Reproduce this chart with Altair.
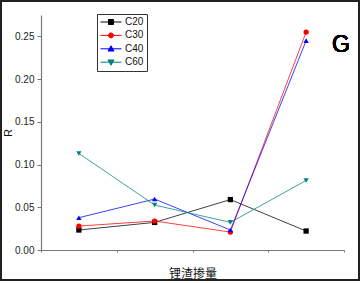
import altair as alt
import pandas as pd

# ---- data ----
X_LABELS = ["0%", "10%", "20%", "30%"]
SERIES = ["C20", "C30", "C40", "C60"]
C20 = [0.0234, 0.0323, 0.0590, 0.0222]
C30 = [0.0280, 0.0339, 0.0210, 0.2550]
C40 = [0.0378, 0.0596, 0.0234, 0.2450]
C60 = [0.1130, 0.0526, 0.0323, 0.0814]
VALUES = [C20, C30, C40, C60]

COLORS = ["#000000", "#ff0000", "#0000ff", "#008080"]
SHAPES = ["square", "circle", "triangle-up", "triangle-down"]
# legend symbols: line segment + marker (unit = sqrt(size)/2)
LEG_PATHS = [
    "M-4.2,0H4.2M-1,-1H1V1H-1Z",
    "M-4.2,0H4.2M1,0A1,1,0,1,1,-1,0A1,1,0,1,1,1,0Z",
    "M-4.2,0H4.2M0,-1.2L-1.2,0.9L1.2,0.9Z",
    "M-4.2,0H4.2M0,1.2L-1.2,-0.9L1.2,-0.9Z",
]

rows = []
for s, vals in zip(SERIES, VALUES):
    for i, v in enumerate(vals):
        rows.append({"x": i, "series": s, "marker": s, "R": v})
df = pd.DataFrame(rows)

X_TICKS = [-0.5, 0, 0.5, 1, 1.5, 2, 2.5, 3, 3.5]
Y_TICKS = [0, 0.025, 0.05, 0.075, 0.1, 0.125, 0.15, 0.175, 0.2, 0.225, 0.25, 0.275]

lab_arr = "[" + ",".join("'" + l + "'" for l in X_LABELS) + "]"
ser_arr = "[" + ",".join("'" + s + "'" for s in SERIES) + "]"
path_arr = "[" + ",".join("'" + p + "'" for p in LEG_PATHS) + "]"

FONT = "Liberation Sans"

x_enc = alt.X(
    "x:Q",
    scale=alt.Scale(domain=[-0.5, 3.5], nice=False, zero=False),
    axis=alt.Axis(
        values=X_TICKS,
        labelExpr="datum.value % 1 == 0 ? " + lab_arr + "[datum.value] : ''",
        tickSize={"condition": {"test": "datum.value % 1 != 0", "value": 2}, "value": 4},
        title="锂渣掺量",
        titleFont="Noto Sans CJK SC",
        titleFontSize=12,
        titlePadding=4,
        labelPadding=2,
        labelFlush=False,
        labelOverlap=False,
    ),
)
y_enc = alt.Y(
    "R:Q",
    scale=alt.Scale(domain=[0, 0.275], nice=False),
    axis=alt.Axis(
        values=Y_TICKS,
        labelExpr="round(datum.value*1000) % 50 == 0 ? format(datum.value, '.2f') : ''",
        tickSize={"condition": {"test": "round(datum.value*1000) % 50 != 0", "value": 2}, "value": 4},
        title="R",
        titleFont=FONT,
        titleFontSize=11,
        titlePadding=1,
        labelPadding=3,
        labelFlush=False,
        labelOverlap=False,
    ),
)
color_scale = alt.Scale(domain=SERIES, range=COLORS)

legend = alt.Legend(
    title=None,
    orient="none",
    legendX=56,
    legendY=-1,
    strokeColor="#333333",
    fillColor="white",
    padding=3,
    symbolSize=25,
    symbolOffset=6,
    labelOffset=9,
    labelFont=FONT,
    labelFontSize=10,
    labelColor="#111111",
    rowPadding=3.4,
    symbolType=alt.ExprRef(expr=path_arr + "[indexof(" + ser_arr + ", datum.value)]"),
    symbolStrokeColor=alt.ExprRef(expr="scale('color', datum.value)"),
    symbolStrokeWidth=1,
    symbolOpacity=1,
)

lines = alt.Chart(df).mark_line(strokeWidth=1, opacity=0.75).encode(
    x=x_enc,
    y=y_enc,
    color=alt.Color("series:N", scale=color_scale, legend=legend),
)

# shape scale keeps a data-derived domain (sorted C20..C60) so it stays out of the legend
points = alt.Chart(df).mark_point(filled=True, size=28, opacity=1).encode(
    x="x:Q",
    y="R:Q",
    color=alt.Color("series:N", scale=color_scale, legend=legend),
    shape=alt.Shape("marker:N", scale=alt.Scale(range=SHAPES), legend=None),
)

label_g = alt.Chart(df).mark_text(
    text="G", fontSize=23, font=FONT, fontWeight="normal", align="center",
    baseline="alphabetic", color="#000000"
).encode(x=alt.value(300), y=alt.value(37))

frame = alt.Chart(df).mark_rect(
    fill=None, stroke="#222222", strokeWidth=1.5, clip=False
).encode(x=alt.value(-40), x2=alt.value(318), y=alt.value(-14), y2=alt.value(265))

chart = alt.layer(frame, lines, points, label_g).properties(
    width=303,
    height=235,
    padding={"left": 41, "top": 15, "right": 18, "bottom": 33},
    autosize="none",
    background="white",
).configure_view(stroke=None).configure_axis(
    grid=False,
    domainColor="#777777",
    domainWidth=1.2,
    tickColor="#777777",
    tickWidth=1,
    labelFont=FONT,
    labelFontSize=10,
    labelColor="#222222",
    titleColor="#111111",
    titleFontWeight="normal",
)

chart.save("out.html", embed_options={"renderer": "svg", "actions": False})
